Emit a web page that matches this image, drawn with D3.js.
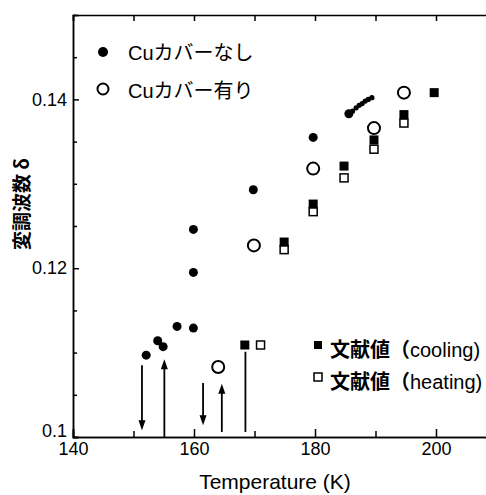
<!DOCTYPE html>
<html>
<head>
<meta charset="utf-8">
<script src="https://cdn.jsdelivr.net/npm/d3@7"></script>
<style>
  body { margin: 0; background: #fff; }
  svg { display: block; font-family: "Liberation Sans", Arial, "Noto Sans CJK JP", sans-serif; }
  .axis path, .axis line { stroke: #000; stroke-width: 1.5; }
  .axis text { font-size: 18px; fill: #000; font-family: "Liberation Sans", Arial, sans-serif; }
</style>
</head>
<body>
<div id="chart"></div>
<script>
// Cuカバーなし (filled circles); the last ones form the dense run near 186-190 K
const noCoverT = [152.1, 154.0, 154.9, 157.2, 159.9, 159.9, 159.9, 169.8, 179.7, 185.6, 186.2, 186.8, 187.3, 187.8, 188.3, 188.8, 189.4];
const noCoverD = [0.1097, 0.1114, 0.1107, 0.1131, 0.1246, 0.1195, 0.1129, 0.1293, 0.1355, 0.1383, 0.1386, 0.1390, 0.1393, 0.1395, 0.1398, 0.1400, 0.1402];
// Cuカバー有り (open circles)
const coverT = [164.0, 169.9, 179.7, 189.75, 194.7];
const coverD = [0.1083, 0.1227, 0.1318, 0.1366, 0.1408];
// 文献値 cooling (filled squares)
const coolT = [168.4, 174.9, 179.7, 184.8, 189.75, 194.7, 199.7];
const coolD = [0.1109, 0.1231, 0.1276, 0.1321, 0.1352, 0.1382, 0.1408];
// 文献値 heating (open squares)
const heatT = [171.0, 174.9, 179.7, 184.8, 189.75, 194.7];
const heatD = [0.1109, 0.1222, 0.1267, 0.1307, 0.1341, 0.1372];
// transition arrows
const arrowT = [151.4, 155.1, 161.5, 164.6, 168.5];
const arrowFrom = [0.1085, 0.1, 0.1064, 0.1006, 0.1006];
const arrowTo = [0.1008, 0.1092, 0.1014, 0.1063, 0.1101];
const arrowHead = [true, true, true, true, false];

const xMajor = [140, 160, 180, 200];
const xMinor = [150, 170, 190, 210];
const yMajor = [0.1, 0.12, 0.14];
const yMinor = [0.105, 0.11, 0.115, 0.125, 0.13, 0.135, 0.145];

const W = 486, H = 495;
const MARGIN_LEFT = 73, PLOT_TOP = 15, PLOT_BOTTOM = 437;

const x = d3.scaleLinear().domain([140, 210]).range([MARGIN_LEFT, MARGIN_LEFT + 70 * 6.05]);
const y = d3.scaleLinear().domain([0.1, 0.15]).range([PLOT_BOTTOM, PLOT_TOP]);

const svg = d3.select('#chart').append('svg')
  .attr('width', W)
  .attr('height', H);

svg.append('rect').attr('width', W).attr('height', H).attr('fill', '#fff');

// axes
svg.append('g').attr('class', 'axis')
  .attr('transform', 'translate(0,' + PLOT_BOTTOM + ')')
  .call(d3.axisBottom(x).tickValues(xMajor).tickSize(-8).tickPadding(5).tickFormat(d3.format('d')));
svg.append('g').attr('class', 'axis')
  .attr('transform', 'translate(0,' + PLOT_BOTTOM + ')')
  .call(d3.axisBottom(x).tickValues(xMinor).tickSize(-6).tickFormat(''));
svg.append('g').attr('class', 'axis')
  .attr('transform', 'translate(0,' + PLOT_TOP + ')')
  .call(d3.axisTop(x).tickValues(xMajor.concat(xMinor)).tickSize(-6).tickFormat(''));
const yAxis = svg.append('g').attr('class', 'axis')
  .attr('transform', 'translate(' + MARGIN_LEFT + ',0)')
  .call(d3.axisLeft(y).tickValues(yMajor).tickSize(-6).tickPadding(6).tickFormat(d3.format('')));
// lift the bottom label so it sits above "140"
yAxis.selectAll('.tick text').filter(d => d === 0.1).attr('dy', '-0.05em');
svg.append('g').attr('class', 'axis')
  .attr('transform', 'translate(' + MARGIN_LEFT + ',0)')
  .call(d3.axisLeft(y).tickValues(yMinor).tickSize(-4).tickFormat(''));

svg.selectAll('.axis .domain').attr('fill', 'none');

// axis titles
svg.append('text')
  .attr('x', 275).attr('y', 489)
  .attr('text-anchor', 'middle')
  .attr('font-size', 21)
  .text('Temperature (K)');

svg.append('text')
  .attr('transform', 'translate(29,204) rotate(-90)')
  .attr('text-anchor', 'middle')
  .attr('font-size', 19)
  .attr('font-weight', 'bold')
  .attr('font-family', '"Noto Sans CJK JP", sans-serif')
  .text('変調波数 δ');

// arrows
const arrows = arrowT.map((t, i) => ({ t: t, from: arrowFrom[i], to: arrowTo[i], head: arrowHead[i] }));
const ag = svg.append('g');
ag.selectAll('line').data(arrows).enter().append('line')
  .attr('x1', d => x(d.t)).attr('x2', d => x(d.t))
  .attr('y1', d => y(d.from))
  .attr('y2', d => d.head ? y(d.to) + (d.to > d.from ? 8 : -8) : y(d.to))
  .attr('stroke', '#000').attr('stroke-width', 1.8);
ag.selectAll('path').data(arrows.filter(d => d.head)).enter().append('path')
  .attr('d', d => {
    const px = x(d.t), py = y(d.to), s = d.to > d.from ? 1 : -1;
    return 'M' + px + ',' + py + 'L' + (px - 3.5) + ',' + (py + s * 10) + 'L' + (px + 3.5) + ',' + (py + s * 10) + 'Z';
  })
  .attr('fill', '#000');

// data marks
svg.append('g').selectAll('circle').data(noCoverT).enter().append('circle')
  .attr('cx', d => x(d)).attr('cy', (d, i) => y(noCoverD[i]))
  .attr('r', (d, i) => i > 9 ? 2.6 : 4.5).attr('fill', '#000');

svg.append('g').selectAll('circle').data(coverT).enter().append('circle')
  .attr('cx', d => x(d)).attr('cy', (d, i) => y(coverD[i]))
  .attr('r', 6).attr('fill', '#fff').attr('stroke', '#000').attr('stroke-width', 2);

svg.append('g').selectAll('rect').data(heatT).enter().append('rect')
  .attr('x', d => x(d) - 4).attr('y', (d, i) => y(heatD[i]) - 4)
  .attr('width', 8).attr('height', 8)
  .attr('fill', '#fff').attr('stroke', '#000').attr('stroke-width', 1.5);

svg.append('g').selectAll('rect').data(coolT).enter().append('rect')
  .attr('x', d => x(d) - 4.5).attr('y', (d, i) => y(coolD[i]) - 4.5)
  .attr('width', 9).attr('height', 9)
  .attr('fill', '#000');

// legend top-left
const lg = svg.append('g').attr('font-size', 20);
lg.append('circle').attr('cx', 103).attr('cy', 52).attr('r', 5).attr('fill', '#000');
lg.append('text').attr('x', 128).attr('y', 60).text('Cuカバーなし');
lg.append('circle').attr('cx', 103).attr('cy', 89).attr('r', 5.5)
  .attr('fill', '#fff').attr('stroke', '#000').attr('stroke-width', 2);
lg.append('text').attr('x', 128).attr('y', 98).text('Cuカバー有り');

// legend bottom-right
const lg2 = svg.append('g').attr('font-size', 20);
lg2.append('rect').attr('x', 314).attr('y', 341).attr('width', 8).attr('height', 8).attr('fill', '#000');
const t1 = lg2.append('text').attr('x', 330).attr('y', 357);
t1.append('tspan').attr('font-weight', 'bold').attr('font-family', '"Noto Sans CJK JP", sans-serif').text('文献値（');
t1.append('tspan').text('cooling)');
lg2.append('rect').attr('x', 314).attr('y', 373).attr('width', 8).attr('height', 8)
  .attr('fill', '#fff').attr('stroke', '#000').attr('stroke-width', 1.5);
const t2 = lg2.append('text').attr('x', 330).attr('y', 389);
t2.append('tspan').attr('font-weight', 'bold').attr('font-family', '"Noto Sans CJK JP", sans-serif').text('文献値（');
t2.append('tspan').text('heating)');
</script>
</body>
</html>
